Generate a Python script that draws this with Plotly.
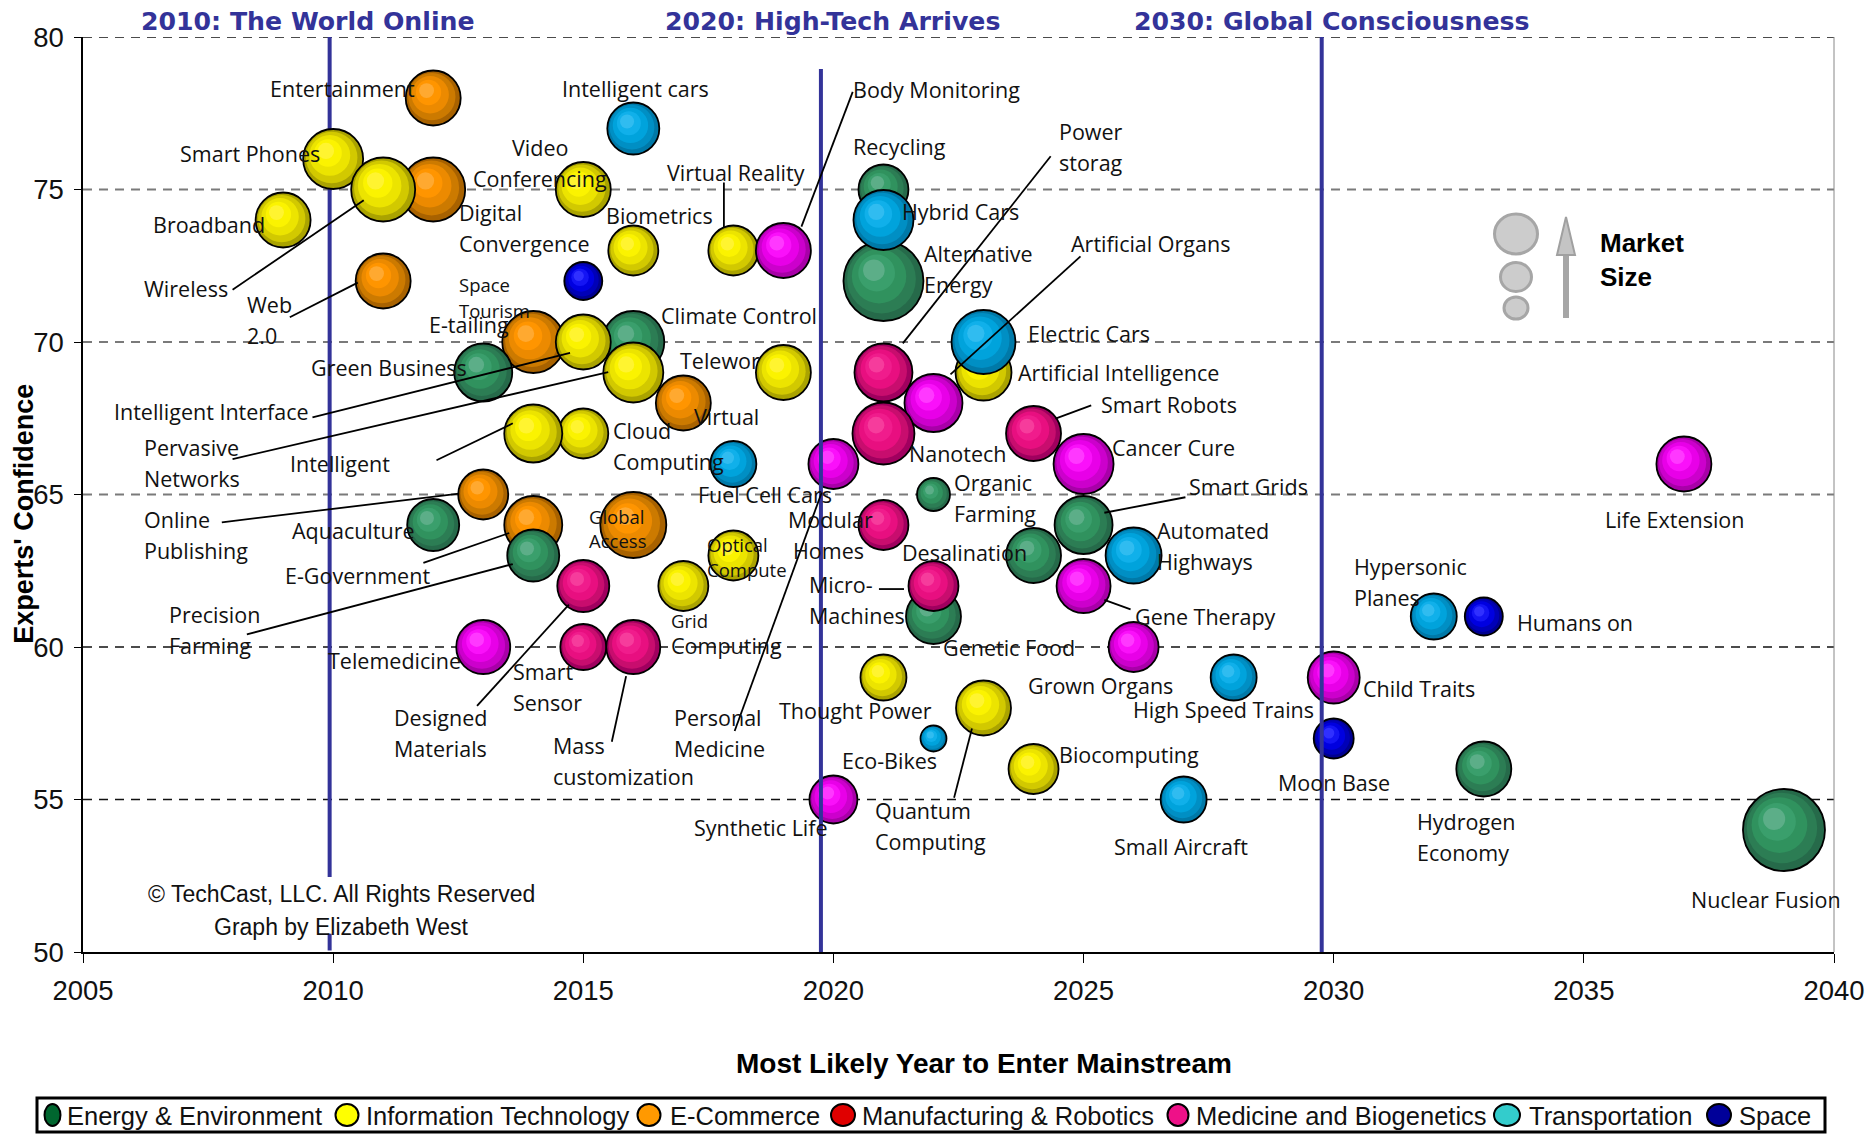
import plotly.graph_objects as go

# ---------- data: (name, year, confidence, market size) ----------
ENERGY = [("Recycling", 2021, 75, 50), ("Alternative Energy", 2021, 72, 80), ("Climate Control", 2016, 70, 62),
          ("Aquaculture", 2012, 64, 52), ("Organic Farming", 2022, 65, 33), ("Desalination", 2024, 63, 55),
          ("Smart Grids", 2025, 64, 58), ("Genetic Food", 2022, 61, 55), ("Hydrogen Economy", 2033, 56, 55),
          ("Nuclear Fusion", 2039, 54, 82)]
ENERGY_LATE = [("Green Business", 2013, 69, 58), ("Precision Farming", 2014, 63, 52)]
ECOMMERCE = [("Entertainment", 2012, 78, 55), ("Digital Convergence", 2012, 75, 64), ("Web 2.0", 2011, 72, 55),
             ("E-tailing", 2014, 70, 62), ("Online Publishing", 2013, 65, 50), ("E-Government", 2014, 64, 58),
             ("Global Access", 2016, 64, 66)]
INFOTECH = [("Smart Phones", 2010, 76, 60), ("Wireless", 2011, 75, 64), ("Broadband", 2009, 74, 55),
            ("Video Conferencing", 2015, 75, 55), ("Biometrics", 2016, 73, 50), ("Virtual Reality", 2018, 73, 50),
            ("Intelligent Interface", 2015, 70, 55), ("Pervasive Networks", 2016, 69, 60), ("Teleworking", 2019, 69, 55),
            ("Cloud Computing", 2015, 67, 50), ("Intelligent", 2014, 67, 58), ("Artificial Intelligence", 2023, 69, 56),
            ("Optical Compute", 2018, 63, 50), ("Grid Computing", 2017, 62, 50), ("Thought Power", 2021, 59, 46),
            ("Quantum Computing", 2023, 58, 55), ("Biocomputing", 2024, 56, 50)]
MANUFACTURING = [("Power Storage", 2021, 69, 58), ("Smart Robots", 2024, 67, 55), ("Modular Homes", 2021, 64, 50),
                 ("Micro-Machines", 2022, 62, 50), ("Smart Sensor", 2015, 62, 52), ("Designed Materials", 2015, 60, 46),
                 ("Mass customization", 2016, 60, 54)]
MEDICINE = [("Body Monitoring", 2019, 73, 55), ("Artificial Organs", 2022, 68, 58), ("Cancer Cure", 2025, 66, 60),
            ("Personal Medicine", 2020, 66, 50), ("Telemedicine", 2013, 60, 54), ("Gene Therapy", 2025, 62, 54),
            ("Grown Organs", 2026, 60, 50), ("Child Traits", 2030, 59, 52), ("Life Extension", 2037, 66, 55),
            ("Synthetic Life", 2020, 55, 48)]
TRANSPORT = [("Intelligent cars", 2016, 77, 52), ("Hybrid Cars", 2021, 74, 60), ("Electric Cars", 2023, 70, 64),
             ("Fuel Cell Cars", 2018, 66, 46), ("Automated Highways", 2026, 63, 56), ("High Speed Trains", 2028, 59, 46),
             ("Small Aircraft", 2027, 55, 46), ("Hypersonic Planes", 2032, 61, 46), ("Eco-Bikes", 2022, 57, 26)]
SPACE = [("Space Tourism", 2015, 72, 38), ("Humans on", 2033, 61, 38), ("Moon Base", 2030, 57, 40)]
ECOMMERCE_LATE = [("Virtual", 2017, 68, 55)]
MANUFACTURING_LATE = [("Nanotech", 2021, 67, 62)]

SERIES_NAMES = ["Energy & Environment", "Information Technology", "E-Commerce", "Manufacturing & Robotics",
                "Medicine and Biogenetics", "Transportation", "Space"]
LEGEND_COLORS = ["#00662f", "#ffff00", "#ff9900", "#e00000", "#ee1188", "#33cccc", "#000099"]
GRID_GREY = [75, 70, 65]
GRID_BLACK = [80, 60, 55]
X_TICKS = [2005, 2010, 2015, 2020, 2025, 2030, 2035, 2040]
Y_TICKS = [50, 55, 60, 65, 70, 75, 80]

# ---------- bubble ramps ----------
GREEN = ["#266a4a", "#2c7d54", "#30925e", "#3a9f6c", "#5cae88"]
YELLOW = ["#aaa300", "#d2c900", "#ece400", "#fbf300", "#fff430"]
ORANGE = ["#a86200", "#cc7a00", "#ec8a00", "#ff9500", "#ffa930"]
PINK = ["#a0005f", "#c80d6e", "#e80f80", "#f01c8c", "#f63c9c"]
MAGENTA = ["#a800a8", "#cc00cc", "#e800e8", "#fa10fa", "#ff38ff"]
BLUE = ["#0079a8", "#008fc4", "#00a3dc", "#10b0ea", "#30bcf0"]
NAVY = ["#000090", "#0000b8", "#0000e0", "#1414f4", "#3030ff"]

# pixel sizes of the plot
W, H = 1870, 1134
ML, MR, MT, MB = 83, 36, 37, 182
PW, PH = W - ML - MR, H - MT - MB
PX_PER_YEAR = PW / 35
PX_PER_CONF = PH / 30
RINGS = [(1.0, 0.0, 0.0), (0.86, -0.05, -0.05), (0.68, -0.11, -0.12), (0.46, -0.17, -0.2), (0.27, -0.24, -0.27)]


def bubble_trace(rows, ramp, name):
    xs, ys, sizes, colors, widths = [], [], [], [], []
    for _, yr, conf, d in rows:
        for k, (s, ox, oy) in enumerate(RINGS):
            xs.append(yr + ox * d / 2 / PX_PER_YEAR)
            ys.append(conf - oy * d / 2 / PX_PER_CONF)
            sizes.append(d * s)
            colors.append(ramp[k])
            widths.append(1.8 if k == 0 else 0)
    return go.Scatter(x=xs, y=ys, mode="markers", name=name, showlegend=False, hoverinfo="skip",
                      marker=dict(size=sizes, color=colors, line=dict(color="#000", width=widths), opacity=1))


def sx(v):
    return (v * W / 1568 - ML) / PW


def sy(v):
    return (H - MB - v * H / 951) / PH


def fx(v):
    return (v - ML) / PW


def fy(v):
    return (H - MB - v) / PH


fig = go.Figure()

# grid lines
for lv in GRID_GREY:
    fig.add_trace(go.Scatter(x=[2005, 2040], y=[lv, lv], mode="lines", showlegend=False, hoverinfo="skip",
                             line=dict(color="#7a7a7a", width=2, dash="9px,7px")))
for lv in GRID_BLACK:
    fig.add_trace(go.Scatter(x=[2005, 2040], y=[lv, lv], mode="lines", showlegend=False, hoverinfo="skip",
                             cliponaxis=False, line=dict(color="#111", width=1.3, dash="9px,7px")))

BLUE_LINE = "#333399"
fig.add_trace(go.Scatter(x=[2009.93] * 5, y=[80.23, 52.46, None, 50.6, 50.05], mode="lines", showlegend=False,
                         hoverinfo="skip", cliponaxis=False, line=dict(color=BLUE_LINE, width=4)))

# bubbles
fig.add_trace(bubble_trace(ENERGY, GREEN, SERIES_NAMES[0]))
fig.add_trace(bubble_trace(ECOMMERCE, ORANGE, SERIES_NAMES[2]))
fig.add_trace(bubble_trace(ENERGY_LATE, GREEN, SERIES_NAMES[0]))
fig.add_trace(bubble_trace(INFOTECH, YELLOW, SERIES_NAMES[1]))
fig.add_trace(bubble_trace(ECOMMERCE_LATE, ORANGE, SERIES_NAMES[2]))
fig.add_trace(bubble_trace(MANUFACTURING, PINK, SERIES_NAMES[3]))
fig.add_trace(bubble_trace(MEDICINE, MAGENTA, SERIES_NAMES[4]))
fig.add_trace(bubble_trace(MANUFACTURING_LATE, PINK, SERIES_NAMES[3]))
fig.add_trace(bubble_trace(TRANSPORT, BLUE, SERIES_NAMES[5]))
fig.add_trace(bubble_trace(SPACE, NAVY, SERIES_NAMES[6]))

fig.add_trace(go.Scatter(x=[2019.75] * 2, y=[78.95, 49.7], mode="lines", showlegend=False, hoverinfo="skip",
                         cliponaxis=False, line=dict(color=BLUE_LINE, width=4)))
fig.add_trace(go.Scatter(x=[2029.76] * 2, y=[80.23, 49.7], mode="lines", showlegend=False, hoverinfo="skip",
                         cliponaxis=False, line=dict(color=BLUE_LINE, width=4)))

# ---------- labels placed in picture positions ----------
LABELS = [("Entertainment", 226, 74), ("Intelligent cars", 471, 74), ("Body Monitoring", 715, 75),
          ("Smart Phones", 151, 129), ("Video", 429, 124), ("Conferencing", 397, 150), ("Virtual Reality", 559, 145),
          ("Recycling", 715, 123), ("Power", 888, 110), ("storag", 888, 136), ("Broadband", 128, 188),
          ("Digital", 385, 178), ("Convergence", 385, 204), ("Biometrics", 508, 181), ("Hybrid Cars", 756, 177),
          ("Alternative", 775, 213), ("Energy", 775, 239), ("Artificial Organs", 898, 204), ("Wireless", 121, 242),
          ("Web", 207, 255), ("2.0", 207, 281), ("Space", 385, 239), ("Tourism", 385, 260), ("E-tailing", 360, 272),
          ("Climate Control", 554, 265), ("Electric Cars", 862, 280), ("Green Business", 261, 308),
          ("Telewor", 570, 302), ("Artificial Intelligence", 854, 312), ("Intelligent Interface", 96, 345),
          ("Virtual", 582, 349), ("Smart Robots", 923, 339), ("Pervasive", 121, 375), ("Networks", 121, 401),
          ("Intelligent", 243, 389), ("Cloud", 514, 361), ("Computing", 514, 387), ("Nanotech", 762, 380),
          ("Cancer Cure", 932, 375), ("Fuel Cell Cars", 585, 415), ("Organic", 800, 405), ("Farming", 800, 431),
          ("Smart Grids", 997, 408), ("Life Extension", 1346, 436), ("Online", 121, 436), ("Publishing", 121, 462),
          ("Aquaculture", 245, 445), ("Global", 494, 433), ("Access", 494, 453), ("Modular", 661, 436),
          ("Homes", 665, 462), ("Automated", 970, 445), ("Highways", 970, 471), ("Desalination", 756, 463),
          ("E-Government", 239, 483), ("Optical", 593, 457), ("Compute", 593, 478), ("Hypersonic", 1135, 475),
          ("Planes", 1135, 501), ("Micro-", 678, 490), ("Machines", 678, 516), ("Precision", 142, 515),
          ("Farming", 142, 541), ("Grid", 563, 520), ("Computing", 563, 541), ("Gene Therapy", 952, 517),
          ("Humans on", 1272, 522), ("Genetic Food", 791, 543), ("Telemedicine", 275, 554), ("Smart", 430, 563),
          ("Sensor", 430, 589), ("Grown Organs", 862, 575), ("Child Traits", 1143, 577), ("Thought Power", 653, 596),
          ("High Speed Trains", 950, 595), ("Designed", 330, 602), ("Materials", 330, 628), ("Personal", 565, 602),
          ("Medicine", 565, 628), ("Mass", 464, 625), ("customization", 464, 651), ("Eco-Bikes", 706, 638),
          ("Biocomputing", 888, 633), ("Moon Base", 1072, 656), ("Quantum", 734, 680), ("Computing", 734, 706),
          ("Hydrogen", 1188, 689), ("Economy", 1188, 715), ("Synthetic Life", 582, 694), ("Small Aircraft", 934, 710),
          ("Nuclear Fusion", 1418, 754)]
SMALL_LABELS = {"Space", "Tourism", "Global", "Access", "Optical", "Compute", "Grid"}

LEADERS = [(195, 243, 305, 168), (243, 266, 300, 237), (262, 350, 478, 296), (195, 385, 510, 312),
           (366, 386, 430, 355), (186, 438, 385, 414), (355, 472, 427, 447), (207, 532, 430, 473),
           (400, 592, 477, 507), (513, 622, 525, 567), (616, 613, 689, 413), (607, 153, 607, 191),
           (715, 77, 672, 190), (881, 131, 757, 288), (906, 215, 797, 314), (915, 340, 885, 351),
           (994, 417, 926, 430), (948, 511, 926, 503), (737, 494, 758, 494), (800, 669, 815, 611)]

LABEL_FONT = "Open Sans"
annotations = []
for txt, lx, ly in LABELS:
    annotations.append(dict(text=txt, x=sx(lx), y=sy(ly), xref="paper", yref="paper", xanchor="left", yanchor="middle",
                            showarrow=False, xshift=-2,
                            font=dict(family=LABEL_FONT, size=18.5 if txt in SMALL_LABELS else 21.5, color="#111")))
HEAD = "Liberation Sans"
for txt, lx in [("2010: The World Online", 118), ("2020: High-Tech Arrives", 558), ("2030: Global Consciousness", 951)]:
    annotations.append(dict(text=f"<b>{txt}</b>", x=sx(lx), y=sy(17), xref="paper", yref="paper", xanchor="left",
                            yanchor="middle", showarrow=False, xshift=-2, yshift=-1,
                            font=dict(family="DejaVu Sans", size=25.2, color=BLUE_LINE)))
for txt, cy in [("© TechCast, LLC. All Rights Reserved", 750), ("Graph by Elizabeth West", 777)]:
    annotations.append(dict(text=txt, x=sx(286), y=sy(cy), xref="paper", yref="paper", xanchor="center",
                            yanchor="middle", showarrow=False, font=dict(family=HEAD, size=23, color="#111")))
for txt, cy in [("Market", 204), ("Size", 232)]:
    annotations.append(dict(text=f"<b>{txt}</b>", x=sx(1342), y=sy(cy), xref="paper", yref="paper", xanchor="left",
                            yanchor="middle", showarrow=False, xshift=-2, font=dict(family=HEAD, size=26, color="#000")))
# axis titles
annotations.append(dict(text="<b>Most Likely Year to Enter Mainstream</b>", x=sx(825), y=sy(892), xref="paper",
                        yref="paper", xanchor="center", yanchor="middle", showarrow=False,
                        font=dict(family=HEAD, size=28, color="#000")))
annotations.append(dict(text="<b>Experts' Confidence</b>", x=sx(20), y=sy(431), xref="paper", yref="paper",
                        xanchor="center", yanchor="middle", textangle=-90, showarrow=False,
                        font=dict(family=HEAD, size=27, color="#000")))

shapes = []
for x0, y0, x1, y1 in LEADERS:
    shapes.append(dict(type="line", xref="paper", yref="paper", x0=sx(x0), y0=sy(y0), x1=sx(x1), y1=sy(y1),
                       line=dict(color="#000", width=1.8), layer="above"))

# market-size key (grey circles and arrow, measured in figure pixels)
for cx, cy, dw, dh in [(1516, 234, 43, 40), (1516, 277, 31, 29), (1516, 308, 24, 22)]:
    shapes.append(dict(type="circle", xref="paper", yref="paper", xsizemode="pixel", ysizemode="pixel",
                       xanchor=fx(cx), yanchor=fy(cy), x0=-dw / 2, x1=dw / 2, y0=-dh / 2, y1=dh / 2,
                       fillcolor="#cccccc", line=dict(color="#a6a6a6", width=3), layer="above"))
shapes.append(dict(type="line", xref="paper", yref="paper", x0=fx(1566), x1=fx(1566), y0=fy(250), y1=fy(318),
                   line=dict(color="#a6a6a6", width=6), layer="above"))
shapes.append(dict(type="path", xref="paper", yref="paper", layer="above",
                   path=f"M {fx(1566)} {fy(217)} L {fx(1575)} {fy(255)} L {fx(1557)} {fy(255)} Z",
                   fillcolor="#c4c4c4", line=dict(color="#a0a0a0", width=2)))

# right axis border
shapes.append(dict(type="line", xref="paper", yref="paper", x0=1, x1=1, y0=0, y1=1, line=dict(color="#888", width=1)))

# legend box, swatches and names at their places in the picture
LEGEND_MARK_X = [52.5, 347, 649, 843, 1178, 1507, 1719]
LEGEND_MARK_W = [16, 23, 23, 24, 21, 26, 24]
LEGEND_TEXT_X = [67, 366, 670, 862, 1196, 1529, 1739]
shapes.append(dict(type="rect", xref="paper", yref="paper", x0=fx(37), x1=fx(1825), y0=fy(1098), y1=fy(1132),
                   fillcolor="white", line=dict(color="#000", width=3), layer="above"))
for nm, col, mx, mw, tx in zip(SERIES_NAMES, LEGEND_COLORS, LEGEND_MARK_X, LEGEND_MARK_W, LEGEND_TEXT_X):
    shapes.append(dict(type="circle", xref="paper", yref="paper", xsizemode="pixel", ysizemode="pixel",
                       xanchor=fx(mx), yanchor=fy(1115), x0=-mw / 2, x1=mw / 2, y0=-11, y1=11,
                       fillcolor=col, line=dict(color="#000", width=2), layer="above"))
    annotations.append(dict(text=nm, x=fx(tx), y=fy(1115), xref="paper", yref="paper", xanchor="left",
                            yanchor="middle", showarrow=False, xshift=-2, yshift=-1,
                            font=dict(family=HEAD, size=25.5, color="#111")))

AX_FONT = dict(family=HEAD, size=27.5, color="#111")
fig.update_layout(
    width=W, height=H, autosize=False, paper_bgcolor="white", plot_bgcolor="white", showlegend=False,
    margin=dict(l=ML, r=MR, t=MT, b=MB, autoexpand=False),
    annotations=annotations, shapes=shapes,
    xaxis=dict(range=[2005, 2040], tickmode="array", tickvals=X_TICKS, showgrid=False, zeroline=False,
               showline=True, linecolor="#000", linewidth=1.5, ticks="outside", ticklen=9, tickcolor="#000",
               tickfont=AX_FONT, ticklabelstandoff=4, automargin=False),
    yaxis=dict(range=[50, 80], tickmode="array", tickvals=Y_TICKS, showgrid=False, zeroline=False,
               showline=True, linecolor="#000", linewidth=1.5, ticks="outside", ticklen=7, tickcolor="#000",
               tickfont=AX_FONT, ticklabelstandoff=5, automargin=False),
)

fig.write_html("out.html", config={"displayModeBar": False}, post_script="document.body.style.margin='0';")
